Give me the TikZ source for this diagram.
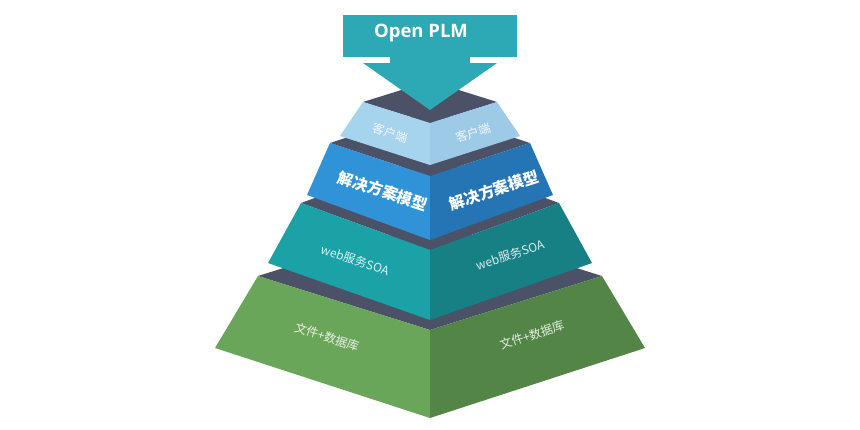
\documentclass[tikz,border=0pt]{standalone}
\usepackage{fontspec}
\setmainfont{Open Sans}
\newfontfamily\cjk{Noto Sans CJK SC}
\usepackage{tikz}
\definecolor{topgray}{HTML}{4B5268}
\definecolor{arrowteal}{HTML}{2DA8B5}
\definecolor{clientL}{HTML}{A6D4EE}
\definecolor{clientR}{HTML}{9DCBE7}
\definecolor{modelL}{HTML}{3093D8}
\definecolor{modelR}{HTML}{2575B5}
\definecolor{soaL}{HTML}{1AA2A7}
\definecolor{soaR}{HTML}{178085}
\definecolor{dbL}{HTML}{6AA65A}
\definecolor{dbR}{HTML}{538646}

\begin{document}
\begin{tikzpicture}[
    x=1pt,y=-1pt,
    topface/.style={fill=topgray},
    lbl/.style={text=white,text opacity=0.85,inner sep=0pt,font=\cjk\fontsize{12}{12}\selectfont},
    boldlbl/.style={text=white,inner sep=0pt,font=\cjk\bfseries\fontsize{15.5}{15.5}\selectfont}
    ]
    \useasboundingbox (0,0) rectangle (860,429);
    \fill[white] (0,0) rectangle (860,429);
    \fill[topface] (258,276) -- (430,222) -- (602,276) -- (430,330) -- cycle;
    \fill[dbL] (258,276) -- (430,330) -- (430,418) -- (215,348) -- cycle;
    \fill[dbR] (602,276) -- (430,330) -- (430,418) -- (645,348) -- cycle;
    \fill[topface] (301,203) -- (430,156) -- (559,203) -- (430,250) -- cycle;
    \fill[soaL] (301,203) -- (430,250) -- (430,320) -- (268,263) -- cycle;
    \fill[soaR] (559,203) -- (430,250) -- (430,320) -- (592,263) -- cycle;
    \fill[topface] (330,143) -- (430,110) -- (530,143) -- (430,176) -- cycle;
    \fill[modelL] (330,143) -- (430,176) -- (430,240) -- (307,195) -- cycle;
    \fill[modelR] (530,143) -- (430,176) -- (430,240) -- (553,195) -- cycle;
    \fill[topface] (363,102) -- (430,81) -- (497,102) -- (430,123) -- cycle;
    \fill[clientL] (363,102) -- (430,123) -- (430,165) -- (340,136) -- cycle;
    \fill[clientR] (497,102) -- (430,123) -- (430,165) -- (520,136) -- cycle;
    \fill[arrowteal] (390,40) rectangle (470,64);
    \fill[arrowteal] (363,63) -- (497,63) -- (430,110) -- cycle;
    \fill[arrowteal] (343,15) rectangle (517,57);
    \node[text=white,font=\bfseries\fontsize{18.5}{18.5}\selectfont] (plm) at (421,33) {Open PLM};
    \node[lbl,rotate=-18] (client-l) at (390,133) {客户端};
    \node[lbl,rotate=18] (client-r) at (473,133) {客户端};
    \node[boldlbl,rotate=-18] (model-l) at (383,191) {解决方案模型};
    \node[boldlbl,rotate=18] (model-r) at (494,190) {解决方案模型};
    \node[lbl,rotate=-18] (soa-l) at (355,260) {web服务SOA};
    \node[lbl,rotate=18] (soa-r) at (510,255) {web服务SOA};
    \node[lbl,rotate=-18] (db-l) at (327,337) {文件+数据库};
    \node[lbl,rotate=18] (db-r) at (532,335) {文件+数据库};
  \end{tikzpicture}
\end{document}
